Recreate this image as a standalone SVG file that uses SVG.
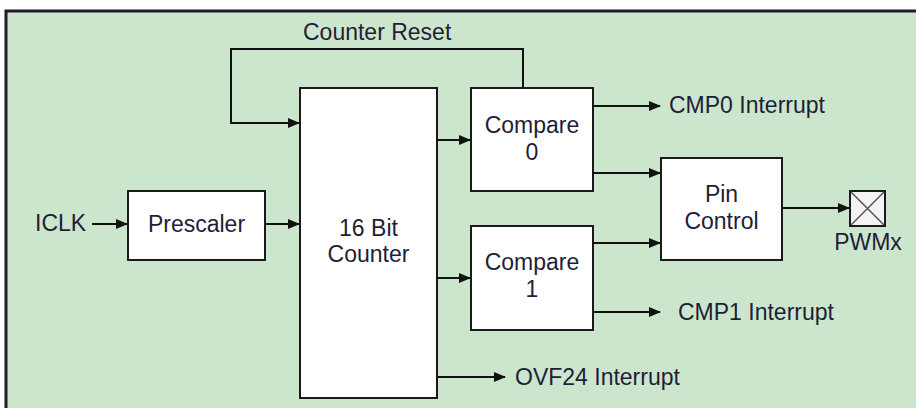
<svg xmlns="http://www.w3.org/2000/svg" width="916" height="408" viewBox="0 0 916 408">
<style>
.box{fill:#fff;stroke:#1a1a1a;stroke-width:2}
.ln{fill:none;stroke:#111;stroke-width:2}
text{font-family:"Liberation Sans",Arial,sans-serif;font-size:23px;fill:#1e1e36}
.c{text-anchor:middle}
</style>
<defs>
<marker id="ah" markerWidth="12" markerHeight="10" refX="11" refY="5" orient="auto" markerUnits="userSpaceOnUse">
<path d="M0,0 L12,5 L0,10 Z" fill="#111"/>
</marker>
</defs>
<rect x="0" y="0" width="916" height="408" fill="#fff"/>
<rect x="6" y="11" width="920" height="410" fill="#cce6ce" stroke="#221a2a" stroke-width="3"/>
<g id="prescaler"><rect class="box" x="128" y="191" width="137" height="69"/><text class="c" x="196.5" y="232">Prescaler</text></g>
<g id="counter"><rect class="box" x="300" y="88" width="137" height="310"/><text class="c" x="368.5" y="236">16 Bit</text><text class="c" x="368.5" y="262">Counter</text></g>
<g id="compare0"><rect class="box" x="471" y="88" width="122" height="103"/><text class="c" x="532" y="133">Compare</text><text class="c" x="532" y="160">0</text></g>
<g id="compare1"><rect class="box" x="471" y="226" width="122" height="104"/><text class="c" x="532" y="270">Compare</text><text class="c" x="532" y="297">1</text></g>
<g id="pincontrol"><rect class="box" x="661" y="158" width="121" height="102"/><text class="c" x="721.5" y="202">Pin</text><text class="c" x="721.5" y="229">Control</text></g>
<g id="pwmx"><rect x="850" y="191" width="35" height="35" fill="#f4f4f4" stroke="#1a1a1a" stroke-width="2"/><path d="M851,192 L884,225 M884,192 L851,225" stroke="#555" stroke-width="1.5"/><text class="c" x="868" y="250">PWMx</text></g>
<g id="iclk"><text x="35" y="231">ICLK</text></g>
<g id="labels">
<text x="303" y="40">Counter Reset</text>
<text x="669" y="113">CMP0 Interrupt</text>
<text x="678" y="320">CMP1 Interrupt</text>
<text x="515" y="385">OVF24 Interrupt</text>
</g>
<g id="connectors">
<path class="ln" d="M92,224 H127" marker-end="url(#ah)"/>
<path class="ln" d="M265,224 H299" marker-end="url(#ah)"/>
<path class="ln" d="M523,88 V49 H231 V123 H299" marker-end="url(#ah)"/>
<path class="ln" d="M437,140 H470" marker-end="url(#ah)"/>
<path class="ln" d="M437,278 H470" marker-end="url(#ah)"/>
<path class="ln" d="M437,377 H505" marker-end="url(#ah)"/>
<path class="ln" d="M593,106 H660" marker-end="url(#ah)"/>
<path class="ln" d="M593,173 H660" marker-end="url(#ah)"/>
<path class="ln" d="M593,243 H660" marker-end="url(#ah)"/>
<path class="ln" d="M593,312 H660" marker-end="url(#ah)"/>
<path class="ln" d="M782,208 H849" marker-end="url(#ah)"/>
</g>
</svg>
